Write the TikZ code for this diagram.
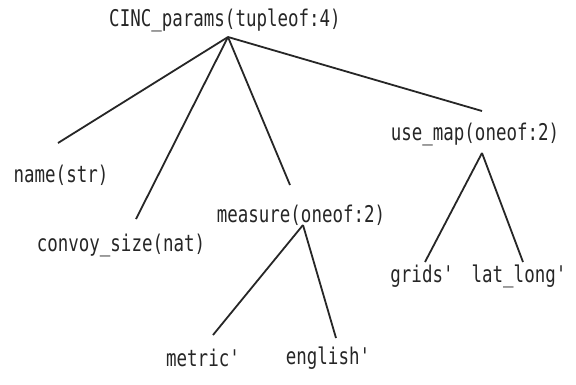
\documentclass[tikz,border=0pt]{standalone}
\usepackage{fontspec}
\newfontfamily\condmono[FakeStretch=0.76]{DejaVu Sans Mono}
\tikzset{
  lbl/.style={inner sep=0pt, font=\condmono\fontsize{23}{23}\selectfont, text=black!85},
  edge/.style={line width=1.8pt, black!85}
}
\begin{document}
\begin{tikzpicture}[x=1pt,y=-1pt]
\useasboundingbox[fill=white] (0,0) rectangle (576,384);
% labels
\node[lbl] (root) at (225,20) {CINC\_params(tupleof:4)};
\node[lbl] (name) at (61,175) {name(str)};
\node[lbl] (convoy) at (121,245) {convoy\_size(nat)};
\node[lbl] (measure) at (301,215) {measure(oneof:2)};
\node[lbl] (metric) at (203,358) {metric'};
\node[lbl] (english) at (328,358) {english'};
\node[lbl] (usemap) at (475,134) {use\_map(oneof:2)};
\node[lbl] (grids) at (422,276) {grids'};
\node[lbl] (latlong) at (519,276) {lat\_long'};
% junctions and line ends
\coordinate (jr) at (228,37);
\coordinate (jm) at (303,225);
\coordinate (ju) at (482,153);
\coordinate (ename) at (58,143);
\coordinate (econvoy) at (136,219);
\coordinate (emeasure) at (290,185);
\coordinate (eusemap) at (482,111);
\coordinate (emetric) at (213,335);
\coordinate (eenglish) at (336,338);
\coordinate (egrids) at (425,262);
\coordinate (elatlong) at (523,262);
% connectors
\draw[edge] (jr) -- (ename);
\draw[edge] (jr) -- (econvoy);
\draw[edge] (jr) -- (emeasure);
\draw[edge] (jr) -- (eusemap);
\draw[edge] (jm) -- (emetric);
\draw[edge] (jm) -- (eenglish);
\draw[edge] (ju) -- (egrids);
\draw[edge] (ju) -- (elatlong);
\end{tikzpicture}
\end{document}
